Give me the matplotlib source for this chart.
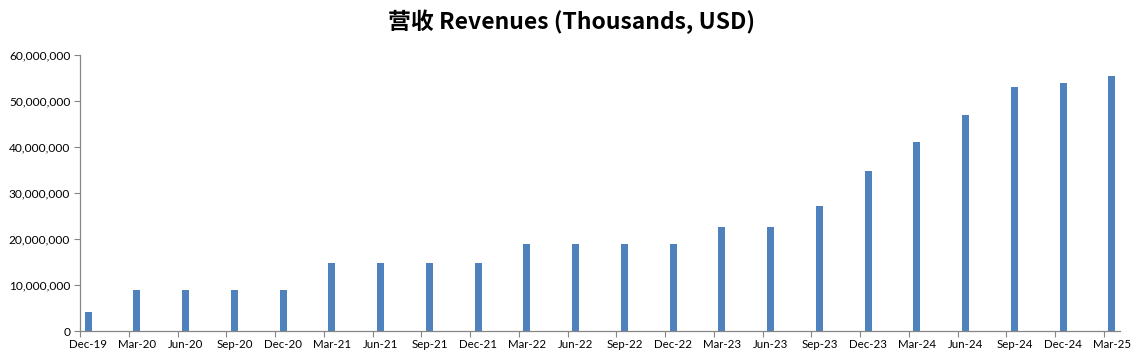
import matplotlib
matplotlib.use("Agg")
import matplotlib.pyplot as plt
from matplotlib.ticker import FuncFormatter, FixedLocator
import numpy as np

quarters = ["Dec-19", "Mar-20", "Jun-20", "Sep-20", "Dec-20", "Mar-21", "Jun-21",
            "Sep-21", "Dec-21", "Mar-22", "Jun-22", "Sep-22", "Dec-22", "Mar-23",
            "Jun-23", "Sep-23", "Dec-23", "Mar-24", "Jun-24", "Sep-24", "Dec-24", "Mar-25"]
revenues = [4.1e6, 9.0e6, 9.0e6, 9.0e6, 9.0e6, 14.8e6, 14.8e6, 14.8e6, 14.8e6,
            19.0e6, 19.0e6, 19.0e6, 19.0e6, 22.6e6, 22.6e6, 27.2e6, 34.8e6,
            41.1e6, 47.0e6, 53.0e6, 53.9e6, 55.5e6]
title = "营收 Revenues (Thousands, USD)"

plt.rcParams['font.family'] = ['Lato', 'Noto Sans CJK SC', 'DejaVu Sans']

fig = plt.figure(figsize=(11.43, 3.63), dpi=100)
W, H = 1143, 363
left, right, bottom, top = 80, 1120, 331, 55
ax = fig.add_axes([left / W, 1 - bottom / H, (right - left) / W, (bottom - top) / H])

# month index on a date axis (base unit month), quarterly points
month_idx = np.arange(len(quarters)) * 3
bar_color = "#4F81BD"
ax.bar(month_idx + 0.5, revenues, width=0.42, color=bar_color, align="center", zorder=2)

ax.set_xlim(0, 64)
ax.set_ylim(0, 60e6)
ax.set_yticks(np.arange(0, 60e6 + 1, 10e6))
ax.yaxis.set_major_formatter(FuncFormatter(lambda v, p: f"{int(v):,}"))

# tick marks at slot boundaries, labels centered on slot
ax.xaxis.set_major_locator(FixedLocator(list(month_idx)))
ax.xaxis.set_major_formatter(FuncFormatter(lambda v, p: ""))
ax.xaxis.set_minor_locator(FixedLocator(list(month_idx + 0.5)))
ax.set_xticklabels(quarters, minor=True)
ax.tick_params(axis="x", which="minor", length=0, pad=6, labelsize=8.3)
ax.tick_params(axis="x", which="major", length=4, width=0.8, color="#868686", direction="out")
ax.tick_params(axis="y", length=4, width=0.8, color="#868686", labelsize=8.6, pad=3)

for s in ["top", "right"]:
    ax.spines[s].set_visible(False)
for s in ["left", "bottom"]:
    ax.spines[s].set_color("#868686")
    ax.spines[s].set_linewidth(0.9)

fig.text(0.5, 1 - 22 / H, title, ha="center", va="center", fontsize=16.5, fontweight="bold",
         family=['Noto Sans CJK SC', 'DejaVu Sans'])

fig.savefig("out.png", dpi=100)
